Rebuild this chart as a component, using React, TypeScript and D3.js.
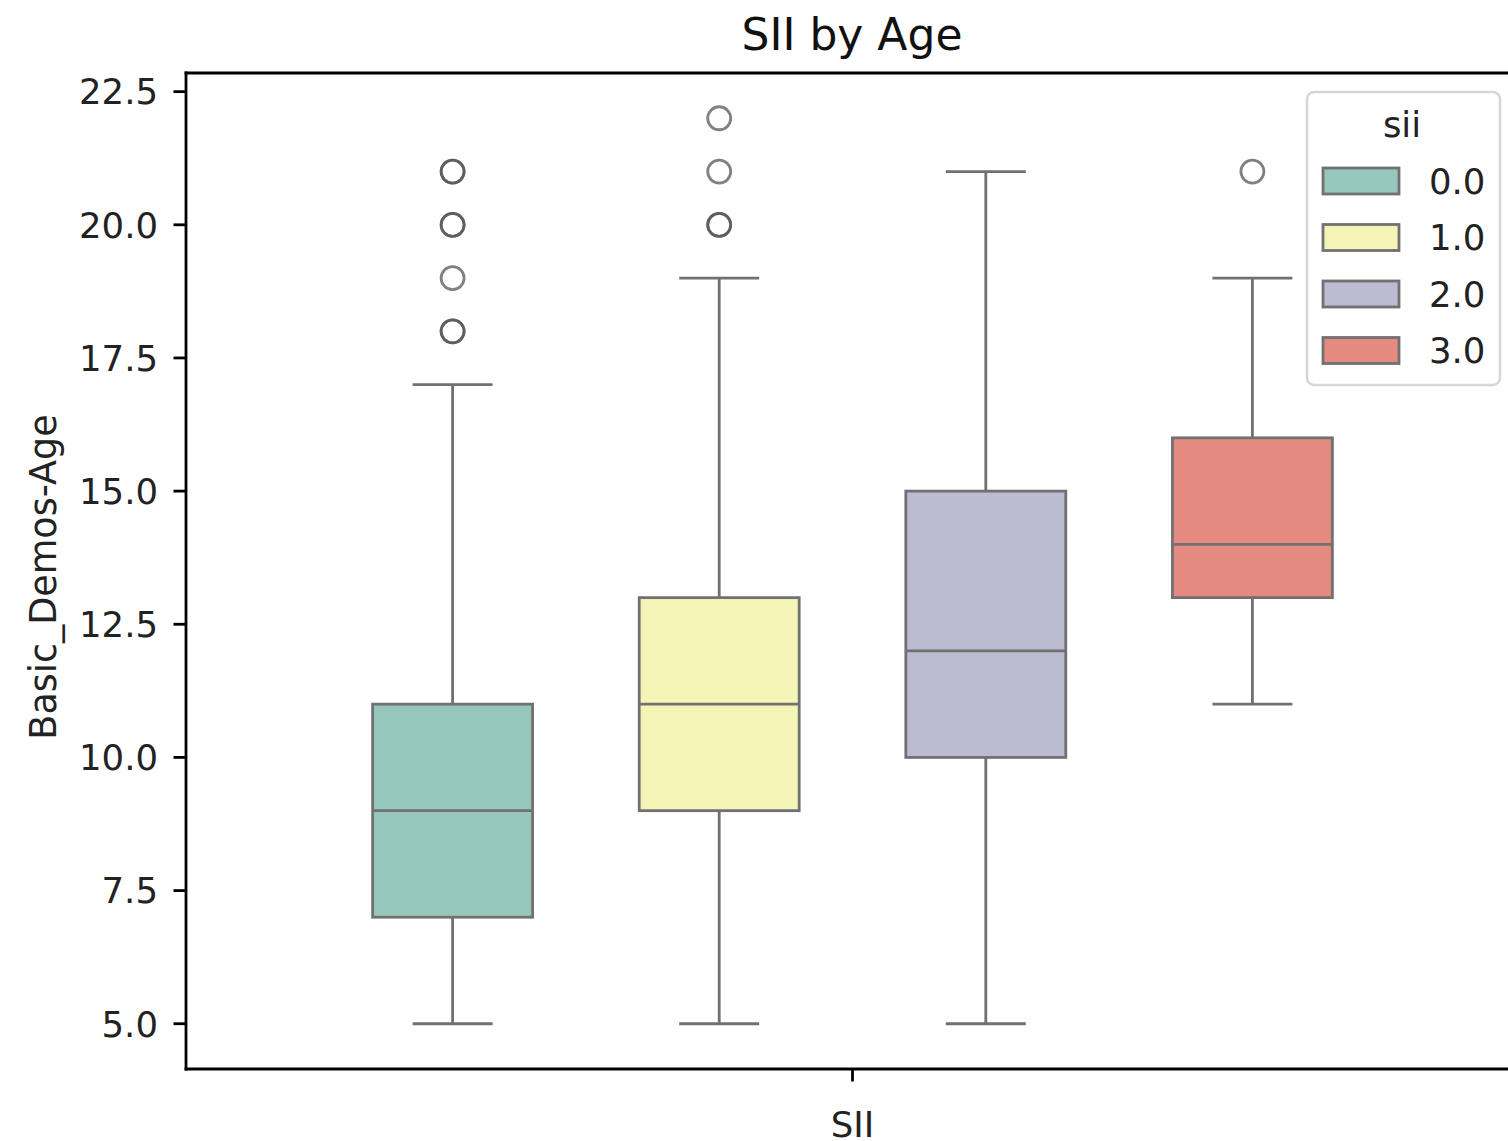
import React from "react";
import * as d3 from "d3";

// sii groups and their age distributions (box summary)
const hues = ["0.0", "1.0", "2.0", "3.0"];
const colors = ["#95c7bc", "#f4f4b7", "#bbbbd1", "#e48a80"];
const q1 = [7, 9, 10, 13];
const medians = [9, 11, 12, 14];
const q3 = [11, 13, 15, 16];
const whiskerLow = [5, 5, 5, 11];
const whiskerHigh = [17, 19, 21, 19];
const fliers: number[][] = [
  [18, 18, 19, 20, 20, 21, 21],
  [20, 20, 21, 22],
  [],
  [21],
];
const yTicks = [5.0, 7.5, 10.0, 12.5, 15.0, 17.5, 20.0, 22.5];

const W = 1508;
const H = 1141;
const left = 186;
const right = 1519;
const top = 73;
const bottom = 1069;
const font = "DejaVu Sans, sans-serif";
const lineColor = "#717171";

export default function App() {
  const y = d3.scaleLinear().domain([4.15, 22.85]).range([bottom, top]);
  const x = d3.scaleLinear().domain([-0.5, 0.5]).range([left, right]);
  const band = d3.scaleBand<string>().domain(hues).range([x(-0.4), x(0.4)]);
  const boxW = band.bandwidth() * 0.6;
  const capW = boxW / 2;

  return (
    <svg
      width={W}
      height={H}
      style={{ position: "absolute", left: 0, top: 0, background: "#fff" }}
      fontFamily={font}
    >
      <rect x={0} y={0} width={W} height={H} fill="#fff" />
      {/* boxes */}
      {hues.map((h, i) => {
        const cx = band(h)! + band.bandwidth() / 2;
        return (
          <g key={h}>
            <line x1={cx} x2={cx} y1={y(q3[i])} y2={y(whiskerHigh[i])} stroke={lineColor} strokeWidth={2.8} />
            <line x1={cx} x2={cx} y1={y(q1[i])} y2={y(whiskerLow[i])} stroke={lineColor} strokeWidth={2.8} />
            <line x1={cx - capW / 2} x2={cx + capW / 2} y1={y(whiskerHigh[i])} y2={y(whiskerHigh[i])} stroke={lineColor} strokeWidth={2.8} />
            <line x1={cx - capW / 2} x2={cx + capW / 2} y1={y(whiskerLow[i])} y2={y(whiskerLow[i])} stroke={lineColor} strokeWidth={2.8} />
            <rect
              x={cx - boxW / 2}
              y={y(q3[i])}
              width={boxW}
              height={y(q1[i]) - y(q3[i])}
              fill={colors[i]}
              stroke={lineColor}
              strokeWidth={2.8}
            />
            <line x1={cx - boxW / 2} x2={cx + boxW / 2} y1={y(medians[i])} y2={y(medians[i])} stroke={lineColor} strokeWidth={2.8} />
            {fliers[i].map((v, k) => (
              <circle
                key={k}
                cx={cx}
                cy={y(v)}
                r={11.5}
                fill="none"
                stroke="rgba(80,80,80,0.72)"
                strokeWidth={2.8}
              />
            ))}
          </g>
        );
      })}

      {/* spines */}
      <line x1={left} x2={left} y1={top} y2={bottom} stroke="#000" strokeWidth={2.8} strokeLinecap="square" />
      <line x1={left} x2={right} y1={bottom} y2={bottom} stroke="#000" strokeWidth={2.8} strokeLinecap="square" />
      <line x1={left} x2={right} y1={top} y2={top} stroke="#000" strokeWidth={2.8} strokeLinecap="square" />
      <line x1={right} x2={right} y1={top} y2={bottom} stroke="#000" strokeWidth={2.8} />

      {/* y axis */}
      {yTicks.map((t) => (
        <g key={t}>
          <line x1={left - 12.5} x2={left} y1={y(t)} y2={y(t)} stroke="#000" strokeWidth={2.8} />
          <text x={left - 28} y={y(t)} dy="0.36em" textAnchor="end" fontSize={35.5} fill="#222">
            {t.toFixed(1)}
          </text>
        </g>
      ))}
      {/* x axis */}
      <line x1={x(0)} x2={x(0)} y1={bottom} y2={bottom + 12.5} stroke="#000" strokeWidth={2.8} />
      <text x={x(0)} y={1137} textAnchor="middle" fontSize={35.5} fill="#222">SII</text>
      <text
        transform={`translate(56,577) rotate(-90)`}
        textAnchor="middle"
        fontSize={36.5}
        fill="#222"
      >
        Basic_Demos-Age
      </text>

      {/* title */}
      <text x={852} y={50} textAnchor="middle" fontSize={44} fill="#111">SII by Age</text>

      {/* legend */}
      <g>
        <rect x={1307} y={92} width={193} height={293} rx={7} fill="rgba(255,255,255,0.8)" stroke="#d6d6d6" strokeWidth={2.5} />
        <text x={1402} y={137} textAnchor="middle" fontSize={35.5} fill="#222">sii</text>
        {hues.map((h, i) => {
          const cy = 181 + i * 56.5;
          return (
            <g key={h}>
              <rect x={1323} y={cy - 13} width={76} height={26} fill={colors[i]} stroke={lineColor} strokeWidth={2.8} />
              <text x={1429} y={cy} dy="0.36em" fontSize={35.5} fill="#222">{h}</text>
            </g>
          );
        })}
      </g>
    </svg>
  );
}
